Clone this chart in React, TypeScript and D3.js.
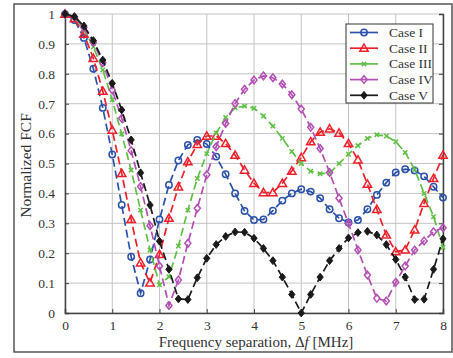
import React, { useEffect, useRef } from 'react';
import * as d3 from 'd3';

// Frequency separation in MHz (0.2 MHz steps)
const freqs: number[] = d3.range(0, 41).map(i => +(i * 0.2).toFixed(1));

const caseI = [1.0, 0.98, 0.92, 0.817, 0.686, 0.53, 0.361, 0.188, 0.066, 0.179, 0.313, 0.428, 0.51, 0.562, 0.579, 0.565, 0.523, 0.464, 0.4, 0.341, 0.311, 0.313, 0.342, 0.376, 0.4, 0.414, 0.406, 0.384, 0.347, 0.317, 0.303, 0.311, 0.347, 0.395, 0.436, 0.47, 0.481, 0.477, 0.457, 0.422, 0.386];
const caseII = [1.0, 0.985, 0.933, 0.852, 0.742, 0.612, 0.467, 0.313, 0.168, 0.101, 0.196, 0.317, 0.422, 0.506, 0.564, 0.592, 0.592, 0.567, 0.528, 0.478, 0.434, 0.403, 0.403, 0.434, 0.475, 0.52, 0.573, 0.605, 0.616, 0.602, 0.567, 0.512, 0.431, 0.347, 0.261, 0.205, 0.211, 0.278, 0.367, 0.45, 0.528];
const caseIII = [1.0, 0.99, 0.95, 0.89, 0.813, 0.713, 0.599, 0.478, 0.344, 0.211, 0.094, 0.121, 0.224, 0.344, 0.45, 0.533, 0.602, 0.654, 0.686, 0.692, 0.685, 0.659, 0.625, 0.584, 0.54, 0.5, 0.474, 0.466, 0.468, 0.5, 0.531, 0.56, 0.584, 0.596, 0.592, 0.573, 0.537, 0.48, 0.4, 0.322, 0.22];
const caseIV = [1.0, 0.99, 0.955, 0.905, 0.837, 0.746, 0.651, 0.543, 0.423, 0.292, 0.157, 0.025, 0.11, 0.233, 0.35, 0.462, 0.556, 0.634, 0.701, 0.748, 0.779, 0.793, 0.787, 0.766, 0.73, 0.682, 0.621, 0.55, 0.47, 0.384, 0.3, 0.211, 0.127, 0.049, 0.04, 0.103, 0.157, 0.211, 0.241, 0.272, 0.285];
const caseV = [1.0, 0.991, 0.96, 0.911, 0.846, 0.768, 0.679, 0.579, 0.469, 0.361, 0.24, 0.146, 0.047, 0.045, 0.118, 0.183, 0.229, 0.256, 0.271, 0.27, 0.25, 0.216, 0.175, 0.12, 0.062, 0.0, 0.062, 0.12, 0.175, 0.216, 0.251, 0.269, 0.273, 0.261, 0.229, 0.179, 0.12, 0.045, 0.046, 0.146, 0.248];

const caseNames = ['Case I', 'Case II', 'Case III', 'Case IV', 'Case V'];
const xTicks = [0, 1, 2, 3, 4, 5, 6, 7, 8];
const yTicks = [0, 0.1, 0.2, 0.3, 0.4, 0.5, 0.6, 0.7, 0.8, 0.9, 1];

interface Series {
  name: string;
  values: number[];
  color: string;
  marker: 'circle' | 'triangle' | 'cross' | 'diamond' | 'filledDiamond';
}

const series: Series[] = [
  { name: caseNames[0], values: caseI, color: '#2b52aa', marker: 'circle' },
  { name: caseNames[1], values: caseII, color: '#f0202a', marker: 'triangle' },
  { name: caseNames[2], values: caseIII, color: '#5fc046', marker: 'cross' },
  { name: caseNames[3], values: caseIV, color: '#b44eb4', marker: 'diamond' },
  { name: caseNames[4], values: caseV, color: '#1a1a1a', marker: 'filledDiamond' }
];

const FONT = '"Liberation Serif", "DejaVu Serif", serif';

const drawMarker = (g: d3.Selection<SVGGElement, unknown, null, undefined>, kind: Series['marker'], x: number, y: number, color: string) => {
  if (kind === 'circle') {
    g.append('circle').attr('cx', x).attr('cy', y).attr('r', 3.2)
      .attr('fill', 'none').attr('stroke', color).attr('stroke-width', 1.5);
  } else if (kind === 'triangle') {
    const s = 4.2;
    g.append('path')
      .attr('d', `M${x},${y - s}L${x + s},${y + s * 0.75}L${x - s},${y + s * 0.75}Z`)
      .attr('fill', 'none').attr('stroke', color).attr('stroke-width', 1.5);
  } else if (kind === 'cross') {
    const s = 2.2;
    g.append('path')
      .attr('d', `M${x - s},${y - s}L${x + s},${y + s}M${x - s},${y + s}L${x + s},${y - s}`)
      .attr('stroke', color).attr('stroke-width', 1.5);
  } else if (kind === 'diamond') {
    const s = 3.8;
    g.append('path')
      .attr('d', `M${x},${y - s}L${x + s * 0.8},${y}L${x},${y + s}L${x - s * 0.8},${y}Z`)
      .attr('fill', 'none').attr('stroke', color).attr('stroke-width', 1.5);
  } else {
    const s = 3.9;
    g.append('path')
      .attr('d', `M${x},${y - s}L${x + s * 0.8},${y}L${x},${y + s}L${x - s * 0.8},${y}Z`)
      .attr('fill', color).attr('stroke', color).attr('stroke-width', 1);
  }
};

export default function App() {
  const svgRef = useRef<SVGSVGElement>(null);

  useEffect(() => {
    if (!svgRef.current) return;
    const width = 453;
    const height = 358;
    const svg = d3.select(svgRef.current);
    svg.selectAll('*').remove();
    svg.attr('width', width).attr('height', height);

    const margin = { top: 14, right: 10, bottom: 45, left: 65 };
    const innerWidth = width - margin.left - margin.right; // 378
    const innerHeight = height - margin.top - margin.bottom; // 299

    svg.append('rect').attr('width', width).attr('height', height).attr('fill', '#fff');

    // outer figure frame
    svg.append('rect')
      .attr('x', 14).attr('y', 4).attr('width', 438).attr('height', 348)
      .attr('fill', 'none').attr('stroke', '#555').attr('stroke-width', 1.5);

    const chartGroup = svg.append('g')
      .attr('transform', `translate(${margin.left}, ${margin.top})`);

    const xScale = d3.scaleLinear().domain([0, 8]).range([0, innerWidth]);
    const yScale = d3.scaleLinear().domain([0, 1]).range([innerHeight, 0]);

    // Grid
    chartGroup.append('g')
      .selectAll('line')
      .data(yTicks)
      .enter()
      .append('line')
      .attr('x1', 0).attr('x2', innerWidth)
      .attr('y1', d => yScale(d)).attr('y2', d => yScale(d))
      .attr('stroke', '#c4c4c4').attr('stroke-width', 1);

    chartGroup.append('g')
      .selectAll('line')
      .data(xTicks)
      .enter()
      .append('line')
      .attr('y1', 0).attr('y2', innerHeight)
      .attr('x1', d => xScale(d)).attr('x2', d => xScale(d))
      .attr('stroke', '#c4c4c4').attr('stroke-width', 1);

    // X Axis
    chartGroup.append('g')
      .attr('transform', `translate(0, ${innerHeight})`)
      .call(d3.axisBottom(xScale).tickValues(xTicks).tickSize(-4).tickPadding(7).tickFormat(d => `${d}`))
      .call(g => g.select('.domain').attr('stroke', '#444').attr('stroke-width', 1.5))
      .call(g => g.selectAll('.tick line').attr('stroke', '#444'))
      .call(g => g.selectAll('.tick text').attr('fill', '#333').attr('font-size', '13.5px').attr('font-family', FONT));

    // Y Axis
    chartGroup.append('g')
      .call(d3.axisLeft(yScale).tickValues(yTicks).tickSize(-4).tickPadding(10).tickFormat(d => `${d}`))
      .call(g => g.select('.domain').attr('stroke', '#444').attr('stroke-width', 1.5))
      .call(g => g.selectAll('.tick line').attr('stroke', '#444'))
      .call(g => g.selectAll('.tick text').attr('fill', '#333').attr('font-size', '13.5px').attr('font-family', FONT));

    // Right axis (ticks only)
    chartGroup.append('g')
      .attr('transform', `translate(${innerWidth}, 0)`)
      .call(d3.axisRight(yScale).tickValues(yTicks).tickSize(-4).tickFormat(() => ''))
      .call(g => g.select('.domain').attr('stroke', '#444').attr('stroke-width', 1.5))
      .call(g => g.selectAll('.tick line').attr('stroke', '#444'));

    // Series
    series.forEach(s => {
      const pts = freqs.map((f, i) => ({ f, v: s.values[i] }));
      const line = d3.line<{ f: number; v: number }>()
        .x(d => xScale(d.f))
        .y(d => yScale(d.v));
      chartGroup.append('path')
        .datum(pts)
        .attr('fill', 'none')
        .attr('stroke', s.color)
        .attr('stroke-width', 1.7)
        .attr('stroke-dasharray', '8,4')
        .attr('d', line);
      const mg = chartGroup.append('g');
      pts.forEach(p => drawMarker(mg, s.marker, xScale(p.f), yScale(p.v), s.color));
    });

    // Legend
    const legend = svg.append('g').attr('transform', 'translate(346, 24)');
    legend.append('rect')
      .attr('width', 87).attr('height', 79)
      .attr('fill', '#fff').attr('stroke', '#333').attr('stroke-width', 1);
    series.forEach((s, i) => {
      const y = 8.5 + i * 15.7;
      legend.append('line')
        .attr('x1', 4).attr('x2', 32).attr('y1', y).attr('y2', y)
        .attr('stroke', s.color).attr('stroke-width', 1.7);
      const mg = legend.append('g');
      drawMarker(mg, s.marker, 18, y, s.color);
      legend.append('text')
        .attr('x', 43).attr('y', y + 4.5)
        .attr('font-size', '13.5px').attr('font-family', FONT).attr('fill', '#333')
        .text(s.name);
    });

    // Axis labels
    const xLabel = svg.append('text')
      .attr('x', margin.left + innerWidth / 2 + 2).attr('y', 347)
      .attr('text-anchor', 'middle')
      .attr('font-size', '15px').attr('font-family', FONT).attr('fill', '#333');
    xLabel.append('tspan').text('Frequency separation, Δ');
    xLabel.append('tspan').attr('font-style', 'italic').text('f');
    xLabel.append('tspan').text(' [MHz]');

    svg.append('text')
      .attr('transform', `translate(31, ${margin.top + innerHeight / 2 + 2}) rotate(-90)`)
      .attr('text-anchor', 'middle')
      .attr('font-size', '15.5px').attr('font-family', FONT).attr('fill', '#333')
      .text('Normalized FCF');
  }, []);

  return (
    <svg ref={svgRef} style={{ position: 'absolute', left: 0, top: 0 }} />
  );
}
